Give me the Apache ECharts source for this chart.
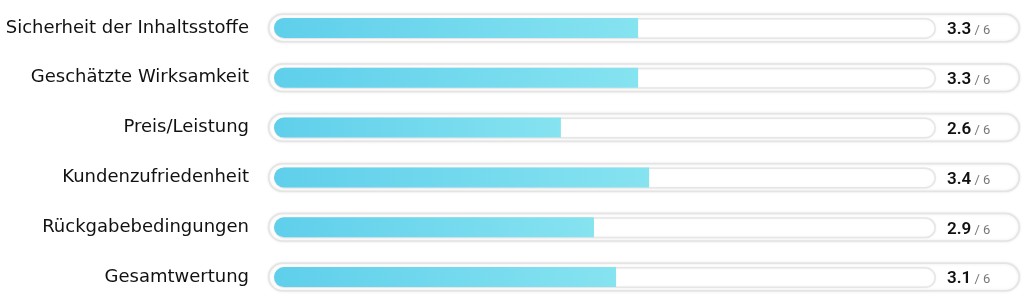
<!DOCTYPE html>
<html>
<head>
<meta charset="utf-8">
<script src="https://cdn.jsdelivr.net/npm/echarts@6/dist/echarts.min.js"></script>
<style>
html,body{margin:0;padding:0;background:#fff;}
#chart{width:1024px;height:305px;}
</style>
</head>
<body>
<div id="chart"></div>
<script>
const categories = ["Sicherheit der Inhaltsstoffe","Geschätzte Wirksamkeit","Preis/Leistung","Kundenzufriedenheit","Rückgabebedingungen","Gesamtwertung"];
const scores = [3.3, 3.3, 2.6, 3.4, 2.9, 3.1];
const maxScore = 6;

const fullTrack = categories.map(() => maxScore);

const chart = echarts.init(document.getElementById('chart'), null, {renderer: 'canvas'});
const option = {
  animation: false,
  grid: [
    {left: 274, right: 88, top: 3, bottom: 3},
    {left: 268, right: 4, top: 3, bottom: 3}
  ],
  xAxis: [
    {gridIndex: 0, type: 'value', min: 0, max: maxScore, show: false},
    {gridIndex: 1, type: 'value', min: 0, max: maxScore, show: false}
  ],
  yAxis: [
    {gridIndex: 0, type: 'category', data: categories, inverse: true,
     axisLine: {show: false}, axisTick: {show: false}, splitLine: {show: false},
     axisLabel: {margin: 25, color: '#111111', fontSize: 18, fontFamily: 'DejaVu Sans', fontWeight: 'normal'}},
    {gridIndex: 1, type: 'category', data: categories, inverse: true, show: false}
  ],
  series: [
    {
      type: 'bar', xAxisIndex: 1, yAxisIndex: 1, data: fullTrack, barWidth: 29, z: 1,
      itemStyle: {color: '#ffffff', borderColor: '#e4e4e4', borderWidth: 1.5, borderRadius: 15,
        shadowColor: 'rgba(0,0,0,0.10)', shadowBlur: 3}
    },
    {
      type: 'bar', xAxisIndex: 0, yAxisIndex: 0, data: fullTrack, barWidth: 21, z: 2,
      itemStyle: {color: '#ffffff', borderColor: '#e6e6e6', borderWidth: 1.5, borderRadius: 11,
        shadowColor: 'rgba(0,0,0,0.06)', shadowBlur: 2},
      label: {
        show: true, position: 'right', distance: 11,
        formatter: p => '{v|' + scores[p.dataIndex].toFixed(1) + '}{s| / ' + maxScore + '}',
        rich: {
          v: {fontSize: 17, fontWeight: 600, color: '#111111', fontFamily: 'Roboto', lineHeight: 20, verticalAlign: 'bottom'},
          s: {fontSize: 13, color: '#777777', fontFamily: 'Roboto', lineHeight: 20, verticalAlign: 'bottom', padding: [0, 0, 1, 0]}
        }
      }
    },
    {
      type: 'bar', xAxisIndex: 0, yAxisIndex: 0, data: scores, barWidth: 20, barGap: '-100%', z: 3,
      itemStyle: {
        borderRadius: [10, 0, 0, 10],
        color: new echarts.graphic.LinearGradient(0, 0, 1, 0, [
          {offset: 0, color: '#5fcfeb'},
          {offset: 1, color: '#86e3f0'}
        ])
      }
    }
  ]
};
chart.setOption(option);
</script>
</body>
</html>
